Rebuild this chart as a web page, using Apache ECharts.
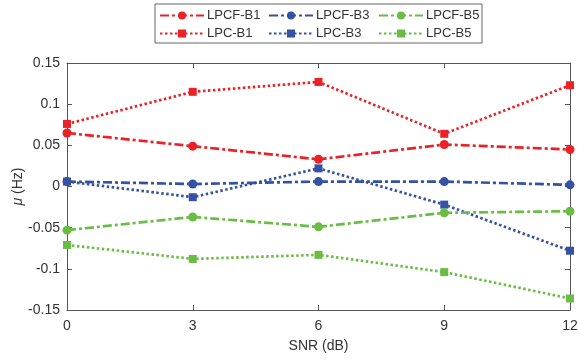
<!DOCTYPE html>
<html>
<head>
<meta charset="utf-8">
<script src="https://cdn.jsdelivr.net/npm/echarts@6/dist/echarts.min.js"></script>
<style>
  html, body { margin: 0; padding: 0; background: #fff; }
  #chart { width: 578px; height: 360px; }
</style>
</head>
<body>
<div id="chart"></div>
<script>
// SNR (dB)
var snr = [0, 3, 6, 9, 12];
// mu (Hz)
var lpcfB1 = [0.065, 0.049, 0.033, 0.051, 0.045];
var lpcB1  = [0.076, 0.115, 0.127, 0.064, 0.123];
var lpcfB3 = [0.006, 0.003, 0.006, 0.006, 0.002];
var lpcB3  = [0.006, -0.013, 0.022, -0.022, -0.078];
var lpcfB5 = [-0.053, -0.037, -0.049, -0.032, -0.030];
var lpcB5  = [-0.071, -0.088, -0.083, -0.104, -0.136];
var yTicks = [-0.15, -0.1, -0.05, 0, 0.05, 0.1, 0.15];
var xTicks = [0, 3, 6, 9, 12];

var red = '#ea2228', blue = '#3451a3', green = '#69bd45';
var dashDot = [9, 3, 3, 3];
var dotted = [2.5, 2.5];
var font = 'Liberation Sans, Arial, sans-serif';

function pairs(ys) {
    var out = [];
    for (var i = 0; i < snr.length; i++) out.push([snr[i], ys[i]]);
    return out;
}

var seriesDefs = [
    { name: 'LPCF-B1', data: lpcfB1, color: red,   type: dashDot, symbol: 'circle' },
    { name: 'LPCF-B3', data: lpcfB3, color: blue,  type: dashDot, symbol: 'circle' },
    { name: 'LPCF-B5', data: lpcfB5, color: green, type: dashDot, symbol: 'circle' },
    { name: 'LPC-B1',  data: lpcB1,  color: red,   type: dotted,  symbol: 'rect' },
    { name: 'LPC-B3',  data: lpcB3,  color: blue,  type: dotted,  symbol: 'rect' },
    { name: 'LPC-B5',  data: lpcB5,  color: green, type: dotted,  symbol: 'rect' }
];

// legend grid: 3 columns x 2 rows
var legendCols = [159, 268, 378];
var legendRows = [9, 27];

var series = [], legends = [];
seriesDefs.forEach(function (s, i) {
    series.push({
        name: s.name,
        type: 'line',
        data: pairs(s.data),
        symbol: s.symbol,
        symbolSize: s.symbol === 'circle' ? 9 : 8,
        lineStyle: { color: s.color, width: 2.7, type: s.type },
        itemStyle: { color: s.color },
        animation: false,
        z: s.symbol === 'circle' ? 3 : 2
    });
    legends.push({
        data: [s.name],
        left: legendCols[i % 3],
        top: legendRows[Math.floor(i / 3)],
        padding: 0,
        itemWidth: 44,
        itemHeight: 10,
        textStyle: { fontFamily: font, fontSize: 13, color: '#333', padding: [0, 0, 0, -2] },
        selectedMode: false
    });
});

var axisGray = '#555';
var chart = echarts.init(document.getElementById('chart'));
chart.setOption({
    backgroundColor: '#fff',
    graphic: [{
        type: 'rect',
        shape: { x: 155, y: 4, width: 327, height: 39 },
        style: { fill: null, stroke: '#666', lineWidth: 1 },
        z: -1
    }],
    legend: legends,
    grid: { left: 67, right: 8, top: 63, bottom: 50, outerBoundsMode: 'none', containLabel: false },
    xAxis: [{
        type: 'value',
        min: 0, max: 12, interval: 3,
        name: 'SNR (dB)',
        nameLocation: 'middle',
        nameGap: 29,
        nameMoveOverlap: false,
        nameTextStyle: { fontFamily: font, fontSize: 14, color: '#333' },
        axisLine: { onZero: false, lineStyle: { color: axisGray, width: 1 } },
        axisTick: { inside: true, length: 5, lineStyle: { color: axisGray } },
        axisLabel: {
            fontFamily: font, fontSize: 14, color: '#333', margin: 9,
            formatter: function (v) { return xTicks.indexOf(v) >= 0 ? String(v) : ''; }
        },
        splitLine: { show: false }
    }, {
        type: 'value', position: 'top',
        min: 0, max: 12, interval: 3,
        axisLine: { onZero: false, lineStyle: { color: axisGray, width: 1 } },
        axisTick: { inside: true, length: 5, lineStyle: { color: axisGray } },
        axisLabel: { show: false },
        splitLine: { show: false }
    }],
    yAxis: [{
        type: 'value',
        min: -0.15, max: 0.15, interval: 0.05,
        name: '{it|μ} (Hz)',
        nameLocation: 'middle',
        nameGap: 42,
        nameMoveOverlap: false,
        nameTextStyle: {
            fontFamily: font, fontSize: 14, color: '#333',
            rich: { it: { fontFamily: font, fontSize: 14, fontStyle: 'italic', color: '#333' } }
        },
        axisLine: { show: true, onZero: false, lineStyle: { color: axisGray, width: 1 } },
        axisTick: { show: true, inside: true, length: 5, lineStyle: { color: axisGray } },
        axisLabel: {
            fontFamily: font, fontSize: 14, color: '#333', margin: 7,
            formatter: function (v) {
                var r = Math.round(v * 100) / 100;
                for (var i = 0; i < yTicks.length; i++) {
                    if (Math.abs(yTicks[i] - r) < 1e-9) return String(yTicks[i]);
                }
                return '';
            }
        },
        splitLine: { show: false }
    }, {
        type: 'value', position: 'right',
        min: -0.15, max: 0.15, interval: 0.05,
        axisLine: { show: true, onZero: false, lineStyle: { color: axisGray, width: 1 } },
        axisTick: { show: true, inside: true, length: 5, lineStyle: { color: axisGray } },
        axisLabel: { show: false },
        splitLine: { show: false }
    }],
    series: series
});
</script>
</body>
</html>
